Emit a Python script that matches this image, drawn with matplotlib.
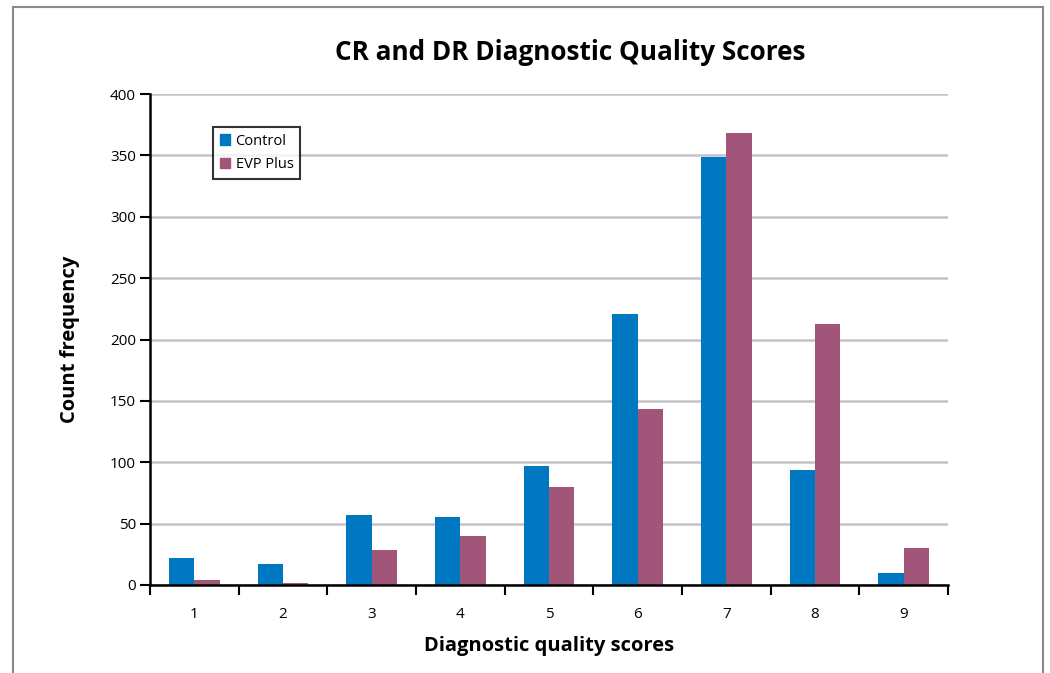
"""
CR and DR diagnostic quality scores - grouped bars
"""

import matplotlib.pyplot as plt
import matplotlib.patches as mpatches
import numpy as np

SCORES = ["1", "2", "3", "4", "5", "6", "7", "8", "9"]
CONTROL = [22, 17, 57, 55, 97, 221, 349, 94, 10]
EVP_PLUS = [4, 1.5, 28.5, 40, 80, 143.5, 368, 212.5, 30]

BLUE = "#0077c1"
PURPLE = "#a05579"


def main() -> None:
    """main"""
    plt.rcParams["font.family"] = ["Open Sans", "DejaVu Sans"]
    fig = plt.figure(figsize=(10.5, 6.73), dpi=100)

    # cadre gris autour de la figure (ouvert en bas)
    for xs, ys in [([0.0124, 0.0124], [0, 0.99]),
                   ([0.0124, 0.9933], [0.99, 0.99]),
                   ([0.9933, 0.9933], [0.99, 0])]:
        fig.add_artist(plt.Line2D(xs, ys, color="#8a8a8a", lw=1.5,
                                  transform=fig.transFigure))

    ax = fig.add_axes([150 / 1050, 1 - 585 / 673, 798 / 1050, 491 / 673])
    x = np.arange(len(SCORES))
    width = 0.285
    ax.bar(x - width / 2, CONTROL, width, color=BLUE, label="Control", zorder=3)
    ax.bar(x + width / 2, EVP_PLUS, width, color=PURPLE, label="EVP Plus", zorder=3)

    ax.set_xlim(-0.5, len(SCORES) - 0.5)
    ax.set_ylim(0, 400)
    ax.set_yticks(range(0, 401, 50))
    ax.yaxis.grid(True, color="#c2c2ca", lw=1.8, zorder=0)

    # graduations aux limites des catégories, libellés au centre
    ax.set_xticks(np.arange(-0.5, len(SCORES), 1.0))
    ax.set_xticklabels([])
    ax.set_xticks(x, minor=True)
    ax.set_xticklabels(SCORES, minor=True, fontsize=11)
    ax.tick_params(axis="x", which="major", direction="out", length=7, width=1.5)
    ax.tick_params(axis="x", which="minor", length=0, pad=16)
    ax.tick_params(axis="y", direction="out", length=7, width=1.5, labelsize=11, pad=3)

    for side in ("top", "right"):
        ax.spines[side].set_visible(False)
    for side in ("left", "bottom"):
        ax.spines[side].set_linewidth(1.8)
        ax.spines[side].set_zorder(4)

    ax.set_xlabel("Diagnostic quality scores", fontsize=14.5, fontweight="bold", labelpad=10)
    ax.set_ylabel("Count frequency", fontsize=14.5, fontweight="bold", labelpad=22)
    fig.text(0.5435, 1 - 52 / 673, "CR and DR Diagnostic Quality Scores",
             ha="center", va="center", fontsize=18.8, fontweight="bold")

    patches = [mpatches.Patch(color=BLUE, label="Control"),
               mpatches.Patch(color=PURPLE, label="EVP Plus")]
    leg = ax.legend(handles=patches, loc="upper left",
                    bbox_to_anchor=(63 / 798, 1 - 33 / 491),
                    fontsize=10.5, frameon=True, fancybox=False,
                    handlelength=0.7, handleheight=0.7, handletextpad=0.4,
                    borderpad=0.45, labelspacing=0.6, borderaxespad=0)
    leg.get_frame().set_edgecolor("black")
    leg.get_frame().set_linewidth(1.5)

    fig.savefig("out.png", dpi=100)


if __name__ == "__main__":
    main()
